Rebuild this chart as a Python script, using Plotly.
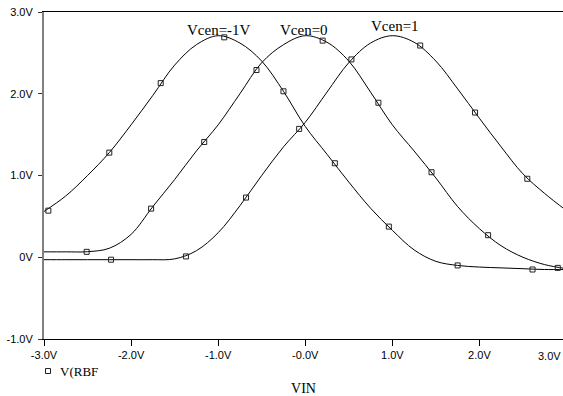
import plotly.graph_objects as go

# ---- data ----
x_grid = [-3.0, -2.75, -2.5, -2.25, -2.0, -1.75, -1.5, -1.25, -1.0, -0.75, -0.5, -0.25,
          0.0, 0.25, 0.5, 0.75, 1.0, 1.25, 1.5, 1.75, 2.0, 2.25, 2.5, 2.75, 3.0]
# Vcen=-1V curve
ya = [0.56, 0.75, 1.0, 1.28, 1.62, 1.98, 2.35, 2.6, 2.71, 2.62, 2.4, 2.03,
      1.6, 1.26, 0.92, 0.6, 0.33, 0.09, -0.05, -0.10, -0.12, -0.13, -0.14, -0.15, -0.15]
# Vcen=0 curve
yb = [0.066, 0.066, 0.068, 0.11, 0.28, 0.62, 0.95, 1.3, 1.62, 2.0, 2.38, 2.6,
      2.71, 2.63, 2.4, 2.02, 1.62, 1.3, 0.97, 0.62, 0.35, 0.14, 0.0, -0.09, -0.14]
# Vcen=1 curve
yc = [-0.03, -0.03, -0.03, -0.03, -0.03, -0.03, -0.02, 0.08, 0.3, 0.63, 1.0, 1.35,
      1.65, 2.02, 2.38, 2.62, 2.71, 2.63, 2.4, 2.06, 1.7, 1.35, 1.02, 0.78, 0.57]

# marker (symbol) positions on each curve
mxa = [-2.95, -2.25, -1.66, -0.93, -0.25, 0.34, 0.96, 1.75, 2.61]
mya = [0.57, 1.28, 2.13, 2.69, 2.03, 1.15, 0.375, -0.10, -0.15]
mxb = [-2.51, -1.77, -1.16, -0.56, 0.2, 0.84, 1.45, 2.1, 2.9]
myb = [0.066, 0.595, 1.41, 2.29, 2.65, 1.89, 1.04, 0.27, -0.13]
mxc = [-2.23, -1.37, -0.68, -0.07, 0.53, 1.32, 1.95, 2.55]
myc = [-0.03, 0.01, 0.73, 1.57, 2.42, 2.59, 1.77, 0.96]

curve_labels = ["Vcen=-1V", "Vcen=0", "Vcen=1"]
label_x = [-0.99, -0.01, 1.03]
label_y = [2.78, 2.78, 2.83]

x_tickvals = [-3, -2, -1, 0, 1, 2]
x_ticktext = ["-3.0V", "-2.0V", "-1.0V", "-0.0V", "1.0V", "2.0V"]
x_last_label = "3.0V"
y_tickvals = [-1, 0, 1, 2, 3]
y_ticktext = ["-1.0V", "0V", "1.0V", "2.0V", "3.0V"]

legend_name = "V(RBF"
x_title = "VIN"

fig = go.Figure()
for ys in [ya, yb, yc]:
    fig.add_trace(go.Scatter(x=x_grid, y=ys, mode="lines",
                             line=dict(color="black", width=1, shape="spline", smoothing=1.0),
                             showlegend=False, hoverinfo="skip"))
for mx, my in [(mxa, mya), (mxb, myb), (mxc, myc)]:
    fig.add_trace(go.Scatter(x=mx, y=my, mode="markers", name=legend_name,
                             marker=dict(symbol="square-open", size=5, color="#222",
                                         line=dict(width=1, color="#222")),
                             showlegend=False))

serif = "Liberation Serif, Times New Roman, serif"
sans = "Liberation Sans, Arial, sans-serif"

annotations = []
for t, lx, ly in zip(curve_labels, label_x, label_y):
    annotations.append(dict(x=lx, y=ly, xref="x", yref="y", text=t, showarrow=False,
                            xanchor="center", yanchor="middle",
                            font=dict(family=serif, size=15, color="black")))
# last x tick label (axis runs just past the window edge)
annotations.append(dict(x=1, y=-0.053, xref="paper", yref="paper", text=x_last_label,
                        showarrow=False, xanchor="right", yanchor="middle",
                        font=dict(family=sans, size=11, color="black")))
# legend entry text
annotations.append(dict(x=0.027, y=-0.0994, xref="paper", yref="paper", text=legend_name,
                        showarrow=False, xanchor="left", yanchor="middle",
                        font=dict(family=serif, size=13, color="black")))

fig.update_layout(
    width=563, height=396,
    margin=dict(l=44, r=0, t=12, b=57),
    paper_bgcolor="white", plot_bgcolor="white",
    showlegend=False,
    annotations=annotations,
    shapes=[dict(type="rect", xref="paper", yref="paper",
                 x0=0.0029, x1=0.0125, y0=-0.1055, y1=-0.0903,
                 line=dict(color="#222", width=1), fillcolor="white")],
    xaxis=dict(range=[-3, 2.96], tickvals=x_tickvals, ticktext=x_ticktext,
               showgrid=False, zeroline=False, showline=True, linecolor="black",
               linewidth=1, mirror=True, ticks="outside", ticklen=6, tickcolor="black",
               tickfont=dict(family=sans, size=11, color="black"),
               title=dict(text=x_title, font=dict(family=serif, size=14, color="black"),
                          standoff=24)),
    yaxis=dict(range=[-1, 3], tickvals=y_tickvals, ticktext=y_ticktext,
               showgrid=False, zeroline=False, showline=True, linecolor="#808080",
               linewidth=2, ticks="outside", ticklen=4, tickcolor="#333",
               ticklabelstandoff=3,
               tickfont=dict(family=sans, size=11, color="black")),
)

fig.write_html("out.html", config={"displayModeBar": False},
               post_script="document.body.style.margin='0';document.body.style.overflow='hidden';")
